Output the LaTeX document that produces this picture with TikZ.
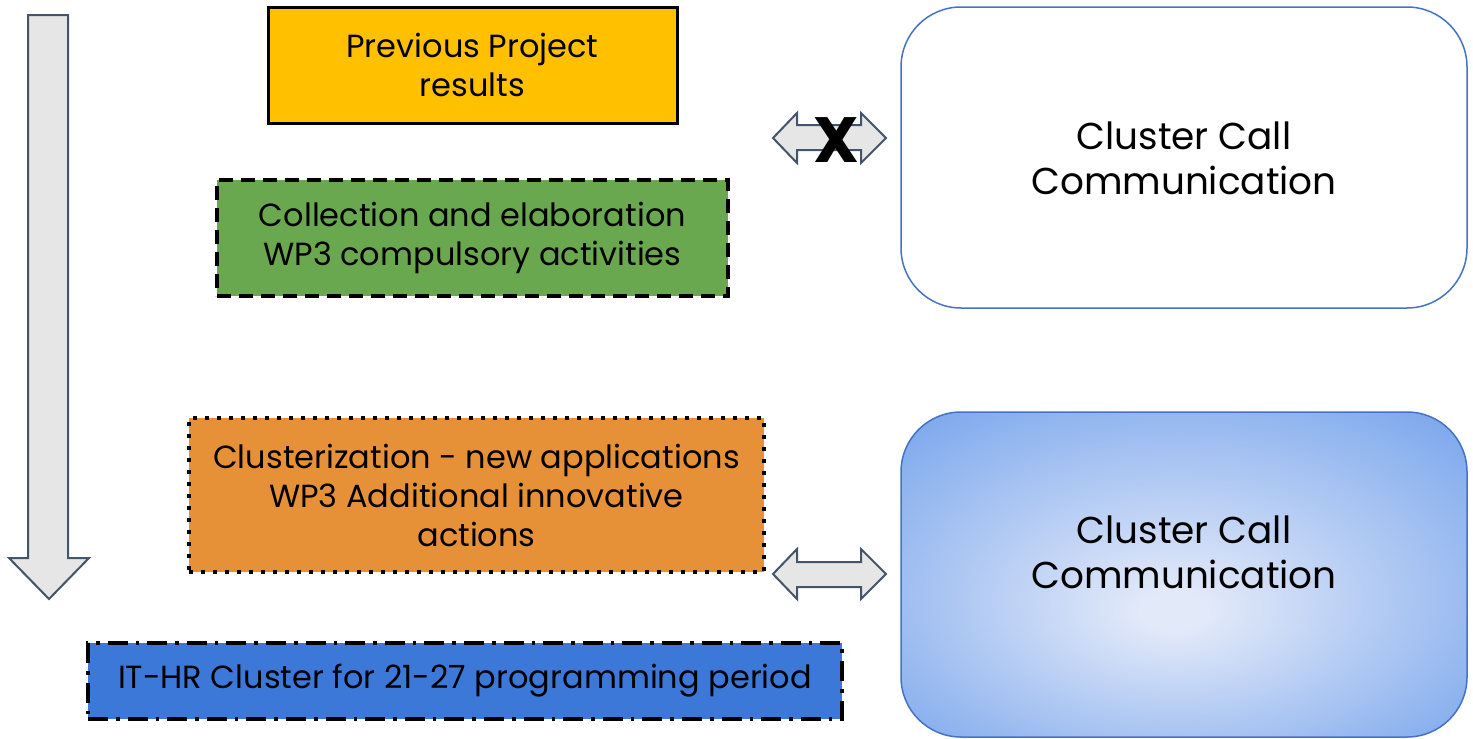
\documentclass[tikz,border=0pt]{standalone}
\usepackage{fontspec}
\setmainfont{Poppins}
\begin{document}
\begin{tikzpicture}[x=0.5pt,y=-0.5pt,
  boxtext/.style={align=center,font=\fontsize{16}{19.5}\selectfont,text=black},
  bigtext/.style={align=center,font=\fontsize{18.7}{22.5}\selectfont,text=black},
  arrowshape/.style={fill=arrowgray,draw=arrowedge,line width=1pt,line join=miter}]
\definecolor{gold}{HTML}{FFC000}
\definecolor{greenbox}{HTML}{6AA84F}
\definecolor{orangebox}{HTML}{E69138}
\definecolor{bluebox}{HTML}{3C78D8}
\definecolor{edgeblue}{HTML}{4472C4}
\definecolor{arrowgray}{HTML}{E7E6E6}
\definecolor{arrowedge}{HTML}{44546A}
\definecolor{gradin}{HTML}{E2E9F9}
\definecolor{gradout}{HTML}{6D9EEB}
\pgfdeclareradialshading{ccshade}{\pgfpoint{-1bp}{-6bp}}{color(0bp)=(gradin); color(3bp)=(gradin); color(40bp)=(gradout); color(50bp)=(gradout)}
\useasboundingbox (0,0) rectangle (1473,739);
% down arrow
\draw[arrowshape] (28,15) -- (68,15) -- (68,558) -- (89,558) -- (49,599) -- (9,558) -- (28,558) -- cycle;
% boxes
\node[draw=black,line width=1.5pt,fill=gold,minimum width=204.5pt,minimum height=58pt,inner sep=0pt,boxtext] (prev) at (472.5,65) {Previous Project\\results};
\node[draw=black,line width=1.8pt,dash pattern=on 7pt off 4pt,fill=greenbox,minimum width=255.5pt,minimum height=58pt,inner sep=0pt,boxtext] (coll) at (472.5,238) {Collection and elaboration\\WP3 compulsory activities};
\node[draw=black,line width=1.8pt,dash pattern=on 1.8pt off 4.2pt,fill=orangebox,minimum width=287.5pt,minimum height=77pt,inner sep=0pt,boxtext] (clus) at (476.5,495) {Clusterization - new applications\\WP3 Additional innovative\\actions};
\node[draw=black,line width=1.8pt,dash pattern=on 10pt off 4pt on 1.8pt off 4pt,fill=bluebox,minimum width=377pt,minimum height=38pt,inner sep=0pt,boxtext] (ithr) at (465,681) {IT-HR Cluster for 21-27 programming period};
% right boxes
\node[draw=edgeblue,line width=0.75pt,fill=white,rounded corners=30pt,minimum width=283pt,minimum height=150.5pt,inner sep=0pt] (cc1) at (1184,157.5) {};
\node[bigtext] (cc1t) at (1184,158) {Cluster Call\\Communication};
\shade[shading=ccshade,rounded corners=30pt] (901,412) rectangle (1467,737);
\draw[draw=edgeblue,line width=0.75pt,rounded corners=30pt] (901,412) rectangle (1467,737);
\node[minimum width=283pt,minimum height=162.5pt,inner sep=0pt] (cc2) at (1184,574.5) {};
\node[bigtext] (cc2t) at (1184,552) {Cluster Call\\Communication};
% double arrows
\draw[arrowshape] (773,138) -- (797,113) -- (797,125) -- (861,125) -- (861,113) -- (886,138) -- (861,163) -- (861,150) -- (797,150) -- (797,163) -- cycle;
\node[font=\fontsize{32}{34}\selectfont\bfseries,inner sep=0pt] (xmark) at (836,140) {X};
\draw[arrowshape] (773,574) -- (797,549) -- (797,562) -- (861,562) -- (861,549) -- (886,574) -- (861,599) -- (861,587) -- (797,587) -- (797,599) -- cycle;
\end{tikzpicture}
\end{document}
